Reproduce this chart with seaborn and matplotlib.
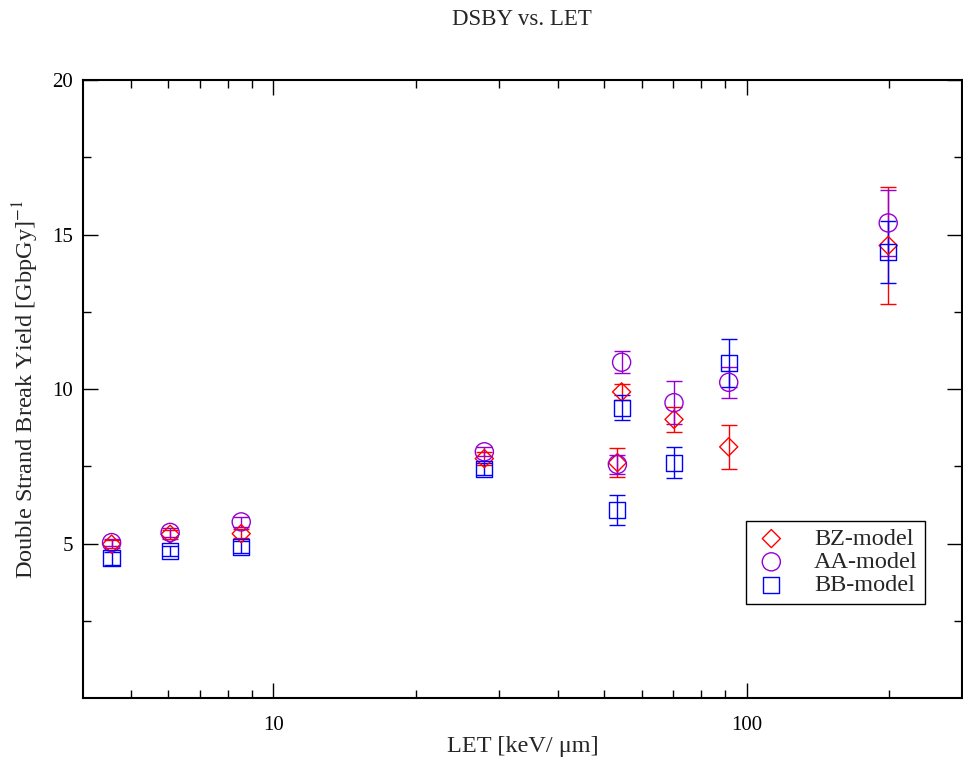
import numpy as np
import pandas as pd
import matplotlib
matplotlib.use("Agg")
import matplotlib.pyplot as plt
from matplotlib.ticker import FixedLocator, NullFormatter
import seaborn as sns

# LET values [keV/um] (the 53 / 54.5 pair sits almost on top of each other)
let_vals = [4.55, 6.05, 8.55, 27.9, 53.3, 54.4, 70.2, 91.6, 199.0]

# DSB yield per model, with error bars
bz_y   = [4.98, 5.30, 5.32, 7.75, 7.62, 9.91, 9.02, 8.13, 14.65]
bz_err = [0.12, 0.15, 0.15, 0.20, 0.48, 0.26, 0.41, 0.71, 1.90]
aa_y   = [5.03, 5.36, 5.70, 7.97, 7.56, 10.87, 9.56, 10.22, 15.38]
aa_err = [0.12, 0.15, 0.15, 0.15, 0.30, 0.36, 0.70, 0.50, 1.07]
bb_y   = [4.52, 4.76, 4.88, 7.42, 6.09, 9.40, 7.62, 10.85, 14.45]
bb_err = [0.20, 0.15, 0.20, 0.20, 0.49, 0.40, 0.50, 0.78, 1.00]

models = ["BZ-model", "AA-model", "BB-model"]

df = pd.DataFrame({
    "let": let_vals * 3,
    "dsby": bz_y + aa_y + bb_y,
    "err": bz_err + aa_err + bb_err,
    "model": np.repeat(models, len(let_vals)),
})

sns.set_style("ticks")
plt.rcParams["font.family"] = ["Liberation Serif", "DejaVu Serif"]
plt.rcParams["mathtext.fontset"] = "stix"

style = {
    "BZ-model": {"color": "#ff0000", "marker": "D", "s": 85},
    "AA-model": {"color": "#9400d3", "marker": "o", "s": 170},
    "BB-model": {"color": "#0000ff", "marker": "s", "s": 135},
}

fig = plt.figure(figsize=(9.63, 7.57), dpi=100)
ax = fig.add_axes([0.0862, 0.078, 0.9128, 0.816])

for m in models:
    sub = df[df["model"] == m]
    st = style[m]
    ax.errorbar(sub["let"], sub["dsby"], yerr=sub["err"], fmt="none",
                ecolor=st["color"], elinewidth=1.0, capsize=6, capthick=1.0)
    sns.scatterplot(x=sub["let"], y=sub["dsby"], marker=st["marker"], s=st["s"],
                    color=st["color"], facecolor="none", edgecolor=st["color"],
                    linewidth=1.0, label=m, ax=ax, zorder=3)

ax.set_xscale("log")
ax.set_xlim(3.96, 285)
ax.set_ylim(0, 20)

ax.xaxis.set_major_locator(FixedLocator([10, 100]))
ax.set_xticklabels(["10", "100"])
ax.xaxis.set_minor_locator(FixedLocator([5, 6, 7, 8, 9, 20, 30, 40, 50, 60, 70, 80, 90, 200]))
ax.xaxis.set_minor_formatter(NullFormatter())
ax.set_yticks([5, 10, 15, 20])
ax.yaxis.set_minor_locator(FixedLocator([2.5, 7.5, 12.5, 17.5]))

ax.tick_params(which="both", direction="in", top=True, right=True,
               labelsize=15, width=1.0, colors="black")
ax.tick_params(which="major", length=11, pad=7)
ax.tick_params(axis="x", which="major", pad=13)
ax.tick_params(which="minor", length=6)
for sp in ax.spines.values():
    sp.set_linewidth(1.5)
    sp.set_color("black")

ax.set_xlabel("LET [keV/ μm]", fontsize=17.5, labelpad=1)
ax.set_ylabel("Double Strand Break Yield [GbpGy]$^{-1}$", fontsize=17.5, labelpad=8)
fig.suptitle("DSBY vs. LET", fontsize=16.5, x=0.5425, y=0.988)

leg = ax.legend(loc="upper left", bbox_to_anchor=(0.754, 0.287), borderaxespad=0,
                fontsize=17.5, frameon=True, fancybox=False, framealpha=1,
                edgecolor="black", labelspacing=0.05, handletextpad=1.0,
                borderpad=0.3, handlelength=1.5)
leg.get_frame().set_linewidth(1.0)

fig.savefig("out.png", dpi=100)
